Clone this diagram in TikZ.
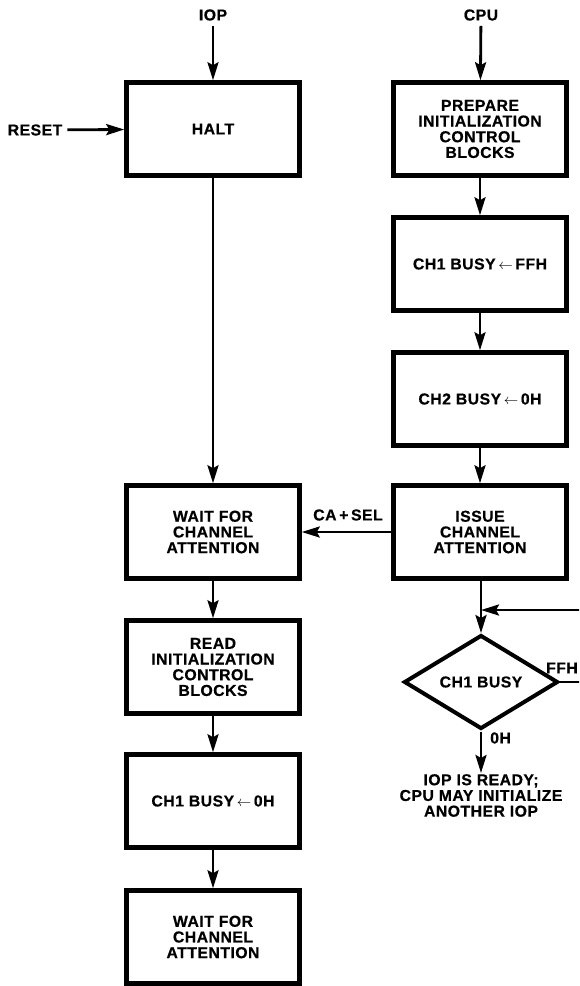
\documentclass[tikz,border=0pt]{standalone}
\usepackage{fontspec}
\setmainfont[LetterSpace=3,BoldFeatures={FakeBold=0.6}]{Liberation Sans}
\usetikzlibrary{arrows.meta,shapes.geometric}
\newcommand{\lblfont}{\fontsize{15.8}{15.7}\selectfont\bfseries}
\begin{document}
\begin{tikzpicture}[x=1pt,y=-1pt,
  box/.style={draw,line width=4.5pt,minimum width=173pt,minimum height=93pt,
    align=center,font=\lblfont,inner sep=0pt},
  lbl/.style={font=\lblfont,inner sep=1pt,align=center},
  arr/.style={line width=2.8pt,-{Stealth[length=18pt,width=11pt,inset=3pt]}},
  ln/.style={line width=2.8pt}]
\useasboundingbox (0,0) rectangle (579,986);
\clip (0,0) rectangle (579,986);
% left column
\node[lbl] (iop) at (213,15) {IOP};
\node[lbl] (reset) at (35,130) {RESET};
\node[box] (halt) at (213,129) {HALT};
\node[box] (wait1) at (213,532) {WAIT FOR\\CHANNEL\\ATTENTION};
\node[box] (read) at (213,667) {READ\\INITIALIZATION\\CONTROL\\BLOCKS};
\node[box] (clr) at (213,801) {CH1 BUSY\,$\leftarrow$\,0H};
\node[box] (wait2) at (213,937) {WAIT FOR\\CHANNEL\\ATTENTION};
% right column
\node[lbl] (cpu) at (481,15) {CPU};
\node[box] (prep) at (480,129) {PREPARE\\INITIALIZATION\\CONTROL\\BLOCKS};
\node[box] (set1) at (480,264) {CH1 BUSY\,$\leftarrow$\,FFH};
\node[box] (set2) at (480,399) {CH2 BUSY\,$\leftarrow$\,0H};
\node[box] (issue) at (480,532) {ISSUE\\CHANNEL\\ATTENTION};
\node[draw,diamond,line width=4pt,minimum width=154pt,minimum height=84pt,
  inner sep=0pt,font=\lblfont] (dia) at (481,682) {CH1 BUSY};
\node[lbl,anchor=north] (ready) at (481,773) {IOP IS READY;\\CPU MAY INITIALIZE\\ANOTHER IOP};
\node[lbl] (casel) at (348,515) {CA\,+\,SEL};
\node[lbl,anchor=east] (ffh) at (579,668) {FFH};
\node[lbl,anchor=west] (zh) at (489,738) {0H};
\coordinate (loopin) at (600,610);
\coordinate (join) at (481,610);
\coordinate (ffhout) at (600,682);
% connectors
\draw[arr,shorten <=4pt] (iop) -- (halt);
\draw[arr,shorten <=4pt] (reset) -- (halt);
\draw[arr] (halt) -- (wait1);
\draw[arr] (wait1) -- (read);
\draw[arr] (read) -- (clr);
\draw[arr] (clr) -- (wait2);
\draw[arr,shorten <=4pt] (cpu) -- (prep);
\draw[arr] (prep) -- (set1);
\draw[arr] (set1) -- (set2);
\draw[arr] (set2) -- (issue);
\draw[arr] (issue) -- (wait1);
\draw[arr] (issue.south -| dia.north) -- (dia.north);
\draw[arr] (loopin) -- (join);
\draw[ln] (dia.east) -- (ffhout);
\draw[arr,shorten <=1pt] (dia.south) -- (ready.north);
\end{tikzpicture}
\end{document}
